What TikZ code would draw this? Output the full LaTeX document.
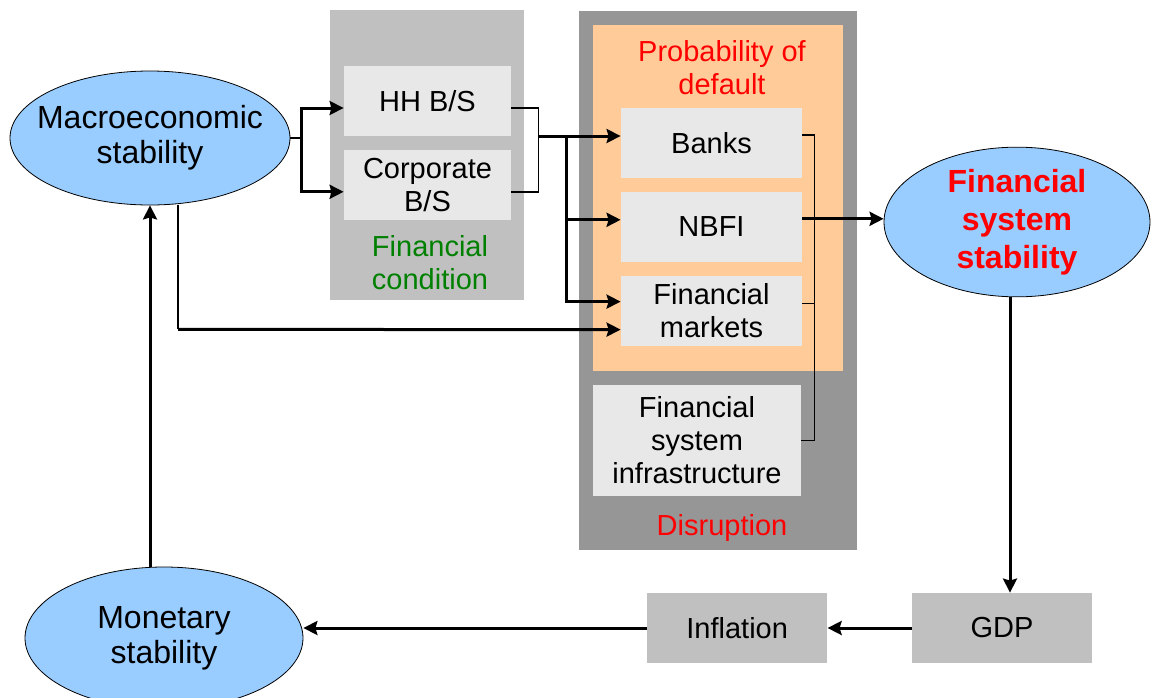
\documentclass[tikz,border=0pt]{standalone}
\usepackage{fontspec}
\setmainfont{Liberation Sans}
\usepackage{tikz}
\usetikzlibrary{positioning,arrows.meta,shapes.geometric}
\definecolor{skyblue}{HTML}{99CCFF}
\definecolor{panelgray}{HTML}{C0C0C0}
\definecolor{boxgray}{HTML}{E8E8E8}
\definecolor{darkpanel}{HTML}{969696}
\definecolor{peach}{HTML}{FFCC99}
\definecolor{condgreen}{HTML}{008000}
\tikzset{>={Stealth[length=7pt,width=7pt,inset=1pt]}}

\begin{document}
\begin{tikzpicture}[x=0.5pt, y=-0.5pt,
stab/.style={ellipse, draw, fill=skyblue, inner sep=0pt, align=center, font=\fontsize{16}{17.5}\selectfont},
item/.style={rectangle, fill=boxgray, minimum width=83.5pt, minimum height=35pt, inner sep=0pt, align=center, font=\fontsize{14.5}{16.5}\selectfont},
outcome/.style={item, fill=panelgray, minimum width=90pt},
panel/.style={rectangle, inner sep=0pt},
caption/.style={align=center, inner sep=0pt, font=\fontsize{14.5}{16.5}\selectfont},
arr/.style={->, line width=1.5pt},
link/.style={line width=0.8pt}
]
\useasboundingbox (0,0) rectangle (1152,697);

% panels
\node (fcpanel) [panel, fill=panelgray, minimum width=97pt, minimum height=145pt] at (427,155) {};
\node (fsbox) [panel, fill=darkpanel, minimum width=139pt, minimum height=269.5pt] at (718,280.5) {};
\node (pdbox) [panel, fill=peach, minimum width=125pt, minimum height=173pt] at (718,198) {};

\node (macro) [stab, inner xsep=-8pt, minimum width=140pt, minimum height=67pt] at (150,138) {Macroeconomic\\stability};
\node (hh) [item] at (427.5,101) {HH B/S};
\node (corp) [item, below=6.5pt of hh] {Corporate\\B/S};
\node (fctext) [caption, text=condgreen] at (430,263) {Financial\\condition};

\node (pdtext) [caption, text=red] at (722,68) {Probability of\\default};
\node (banks) [item, minimum width=90.5pt] at (711.5,143) {Banks};
\node (nbfi) [item, minimum width=90.5pt, below=6.5pt of banks] {NBFI};
\node (fm) [item, minimum width=90.5pt, below=6.5pt of nbfi] {Financial\\markets};
\node (fsi) [item, minimum width=104pt, minimum height=55.5pt] at (697,440.5) {Financial\\system\\infrastructure};
\node (disrupt) [caption, text=red] at (722,528) {Disruption};

\node (fss) [stab, minimum width=133pt, minimum height=73pt, text=red, font=\fontsize{16}{19}\selectfont\bfseries] at (1017,222) {Financial\\system\\stability};
\node (gdp) [outcome] at (1002,628) {GDP};
\node (infl) [outcome, left=42pt of gdp] {Inflation};
\node (monet) [stab, minimum width=139pt, minimum height=71pt] at (164,638) {Monetary\\stability};

% macro to balance sheets
\draw [link] (macro.east) -- ++(11,0) coordinate (mfork);
\draw [arr] (mfork) |- ([yshift=-3.5pt]hh.west);
\draw [arr] (mfork) |- ([yshift=-3.5pt]corp.west);

% balance sheets to institutions
\draw [link] ([yshift=-3.5pt]hh.east) -- ++(27,0) |- ([yshift=-3.5pt]corp.east);
\coordinate (join) at (538,136);
\coordinate (split) at (566,136);
\draw [arr] (join) -- ([yshift=3.5pt]banks.west);
\draw [arr] (split) |- ([yshift=3.5pt]nbfi.west);
\draw [arr] (split) |- ([yshift=4.5pt]fm.west);
\draw [link] ([xshift=14pt]macro.south) -- ++(0,124) coordinate (mturn);
\draw [arr] (mturn) -- ([yshift=-9.5pt]fm.west);

% institutions to system stability
\draw [link] ([yshift=4pt]banks.east) -- ++(12,0) |- (fsi.east);
\draw [link] ([yshift=3.5pt]fm.east) -- ++(12,0);
\draw [arr] ([yshift=4pt]nbfi.east) -- ([yshift=4pt]nbfi.east -| fss.west);

% feedback loop
\draw [arr] ([xshift=-3.5pt]fss.south) -- ([xshift=4pt]gdp.north);
\draw [arr] (gdp.west) -- (infl.east);
\draw [arr] (infl.west) -- (infl.west -| monet.east);
\draw [arr] (macro.south |- monet.north) -- (macro.south);
\end{tikzpicture}
\end{document}
